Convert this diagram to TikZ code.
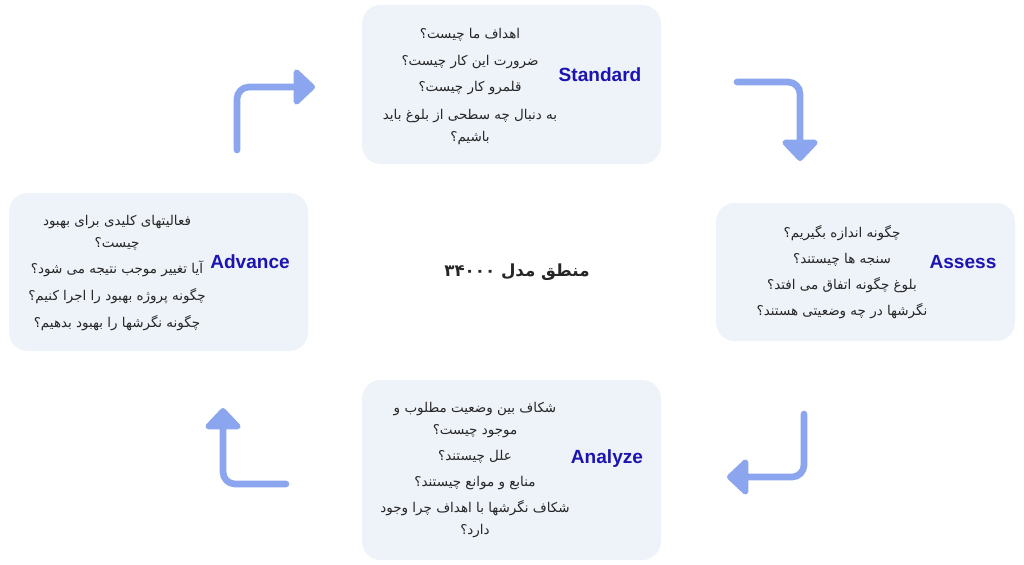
\documentclass[tikz,border=0pt]{standalone}
\usepackage{fontspec}
\setmainfont{Liberation Sans}
\newfontfamily\arabicfont[Script=Arabic]{DejaVu Sans}
\TeXXeTstate=1
\usetikzlibrary{arrows.meta,
                positioning}
\definecolor{boxfill}{HTML}{EEF2F9}
\definecolor{flowblue}{HTML}{8BA5EE}
\definecolor{titleblue}{HTML}{1C14B0}
\definecolor{textgray}{HTML}{262626}
\newcommand{\fa}[1]{\beginR #1\endR}
\tikzset{panel/.style =
   {rectangle,
    fill=boxfill,
    rounded corners=14pt,
    minimum width=224.25pt,
    inner sep=0pt}}
\tikzset{question/.style =
   {font=\arabicfont\fontsize{10.1}{16.5}\selectfont,
    text=textgray,
    align=center,
    inner sep=0pt}}
\tikzset{title/.style =
   {font=\fontsize{14.3}{16}\selectfont\bfseries,
    text=titleblue,
    inner sep=0pt}}
\tikzset{flow/.style =
   {draw=flowblue,
    line width=5pt,
    line cap=round,
    rounded corners=9pt,
    -{Triangle[width=31pt,length=17pt,round]}}}

\begin{document}
\begin{tikzpicture}[x=0.75pt,y=-0.75pt]

    \useasboundingbox (0,0) rectangle (1024,564);

    % the four stages
    \node [panel, minimum height=119.25pt] (standard) at (511.5,84.5) {};
    \node [panel, minimum height=103.5pt]  (assess)   at (865.5,272) {};
    \node [panel, minimum height=135pt]    (analyze)  at (511.5,470) {};
    \node [panel, minimum height=118.5pt]  (advance)  at (158.5,272) {};

    \node [title] (standard-title) at (600,75)  {Standard};
    \node [title] (assess-title)   at (963,262) {Assess};
    \node [title] (analyze-title)  at (607,459) {Analyze};
    \node [title] (advance-title)  at (250,262) {Advance};

    \node [question] (standard-text) at (470,86) {%
        \fa{اهداف ما چیست؟}\\[3.75pt]
        \fa{ضرورت این کار چیست؟}\\[3.75pt]
        \fa{قلمرو کار چیست؟}\\[3.75pt]
        \fa{به دنبال چه سطحی از بلوغ باید}\\
        \fa{باشیم؟}};

    \node [question] (assess-text) at (842,272) {%
        \fa{چگونه اندازه بگیریم؟}\\[3pt]
        \fa{سنجه ها چیستند؟}\\[3pt]
        \fa{بلوغ چگونه اتفاق می افتد؟}\\[3pt]
        \fa{نگرشها در چه وضعیتی هستند؟}};

    \node [question] (analyze-text) at (475,470) {%
        \fa{شکاف بین وضعیت مطلوب و}\\
        \fa{موجود چیست؟}\\[3pt]
        \fa{علل چیستند؟}\\[3pt]
        \fa{منابع و موانع چیستند؟}\\[3pt]
        \fa{شکاف نگرشها با اهداف چرا وجود}\\
        \fa{دارد؟}};

    \node [question] (advance-text) at (117,273) {%
        \fa{فعالیتهای کلیدی برای بهبود}\\
        \fa{چیست؟}\\[3pt]
        \fa{آیا تغییر موجب نتیجه می شود؟}\\[3.75pt]
        \fa{چگونه پروژه بهبود را اجرا کنیم؟}\\[3.75pt]
        \fa{چگونه نگرشها را بهبود بدهیم؟}};

    \node [question, font=\arabicfont\bfseries\fontsize{12.5}{14}\selectfont]
        (model) at (517,272) {\fa{منطق مدل \beginL ۳۴۰۰۰\endL}};

    % arrows between the stages
    \coordinate (flow1-start) at (237,150);
    \coordinate (flow1-end)   at (315,87);
    \coordinate (flow2-start) at (737,82);
    \coordinate (flow2-end)   at (800,161);
    \coordinate (flow3-start) at (804,414);
    \coordinate (flow3-end)   at (727,477);
    \coordinate (flow4-start) at (286,484);
    \coordinate (flow4-end)   at (223,408);

    \draw [flow] (flow1-start) |- (flow1-end);
    \draw [flow] (flow2-start) -| (flow2-end);
    \draw [flow] (flow3-start) |- (flow3-end);
    \draw [flow] (flow4-start) -| (flow4-end);

\end{tikzpicture}
\end{document}
